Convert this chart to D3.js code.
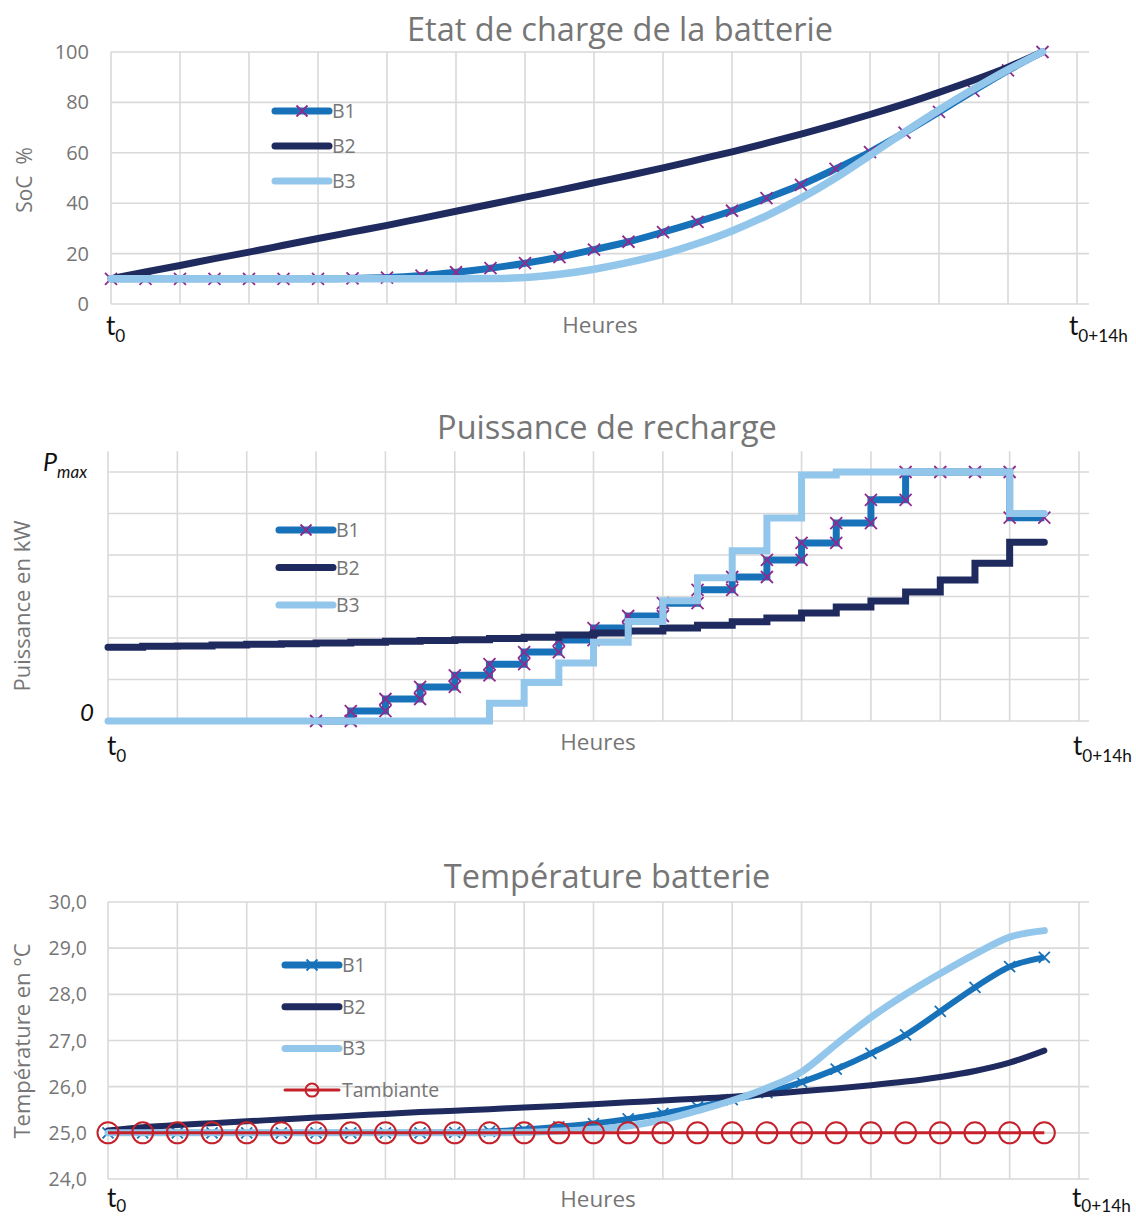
<!DOCTYPE html>
<html><head><meta charset="utf-8">
<script src="https://cdnjs.cloudflare.com/ajax/libs/d3/7.8.5/d3.min.js"></script>
<style>body{margin:0;background:#fff}svg{display:block}</style>
</head><body>
<script>
// ---------- DATA ----------
// Chart 1 : SoC (%) at half-hour steps (index 0..27)
const socB1 = [10,10,10,10,10,10,10,10.2,10.5,11.3,12.6,14.2,16.2,18.6,21.6,24.7,28.5,32.6,37,42,47.3,53.6,60.3,68,76.2,84.6,92.7,100];
const socB2 = [10,12.7,15.3,18,20.6,23.3,26,28.6,31.2,34,36.8,39.6,42.4,45.2,48.1,51,54,57.2,60.4,63.8,67.4,71.2,75.2,79.4,84,88.8,94,100];
const socB3 = [10,10,10,10,10,10,10,10,10,10,10,10.1,10.5,11.8,13.8,16.5,19.8,24,29,35,42,50,59,68.2,77,85.3,93,100];
const socTicks = [0,20,40,60,80,100];

// Chart 2 : charging power levels per half-hour interval (units of grid, Pmax = 6)
const powB1 = [null,null,null,null,null,null,0,0.24,0.53,0.82,1.1,1.37,1.66,1.95,2.24,2.53,2.84,3.16,3.47,3.88,4.29,4.77,5.33,6,6,6,4.9];
const powB2 = [1.78,1.8,1.81,1.83,1.85,1.86,1.88,1.9,1.92,1.94,1.96,1.99,2.02,2.07,2.12,2.17,2.24,2.31,2.39,2.48,2.6,2.75,2.89,3.11,3.4,3.8,4.31];
const powB3 = [0,0,0,0,0,0,0,0,0,0,0,0.43,0.93,1.4,1.9,2.4,2.9,3.45,4.1,4.89,5.93,6,6,6,6,6,5.0];
const pmax = 6;

// Chart 3 : battery temperature (°C)
const tB1 = [25,25,25,25,25,25,25,25,25,25,25.01,25.03,25.07,25.13,25.2,25.3,25.42,25.56,25.72,25.87,26.1,26.38,26.72,27.12,27.63,28.15,28.6,28.8];
const tB2 = [25.05,25.12,25.17,25.21,25.25,25.29,25.33,25.37,25.41,25.45,25.48,25.51,25.55,25.58,25.62,25.66,25.7,25.74,25.78,25.84,25.9,25.96,26.03,26.11,26.21,26.34,26.52,26.78];
const tB3 = [25,25,25,25,25,25,25,25,25,25,25,25,25.01,25.04,25.08,25.15,25.28,25.48,25.7,25.97,26.32,26.92,27.5,28,28.45,28.87,29.24,29.38];
const tAmb = [25,25,25,25,25,25,25,25,25,25,25,25,25,25,25,25,25,25,25,25,25,25,25,25,25,25,25,25];
const tempTicks = [24,25,26,27,28,29,30];

const titles = ["Etat de charge de la batterie","Puissance de recharge","Température batterie"];
const yLabels = ["SoC  %","Puissance en kW","Température en °C"];
const seriesNames = ["B1","B2","B3","Tambiante"];
const xLabel = "Heures";

// ---------- STYLE ----------
const C = {b1:"#1872B9", b2:"#1F2A5E", b3:"#93C6EB", mk:"#8E2B8E", red:"#C4212B", grid:"#D9D9D9", txt:"#767676"};
const FONT = "'Open Sans', Lato, sans-serif";
const TFONT = "Lato, 'Open Sans', sans-serif";
const W = 1136, H = 1218;
const svg = d3.select("body").append("svg").attr("width",W).attr("height",H).style("font-family",FONT);

function xMark(g, x, y, s, color, w){
  g.append("path").attr("d",`M${x-s},${y-s}L${x+s},${y+s}M${x-s},${y+s}L${x+s},${y-s}`)
   .attr("stroke",color).attr("stroke-width",w).attr("fill","none");
}
function tLabel(g, x, y, sub, size, dy){
  const t = g.append("text").attr("x",x).attr("y",y).attr("fill","#111").style("font-size",size+"px").style("font-family",TFONT);
  t.append("tspan").text("t");
  t.append("tspan").attr("dy",dy).style("font-size",(size*0.66)+"px").text(sub);
}
function grid(g, x, y, xTicks, yTicks, xr, yTop, xRightExt){
  g.append("g").selectAll("line").data(xTicks).join("line")
   .attr("x1",d=>x(d)).attr("x2",d=>x(d)).attr("y1",yTop).attr("y2",y.range()[0])
   .attr("stroke",C.grid).attr("stroke-width",1.6);
  g.append("g").selectAll("line").data(yTicks).join("line")
   .attr("x1",xr[0]).attr("x2",xRightExt).attr("y1",d=>y(d)).attr("y2",d=>y(d))
   .attr("stroke",C.grid).attr("stroke-width",1.6);
}
function legend(g, x0, y0, dy, items){
  items.forEach((it,i)=>{
    const y = y0 + i*dy;
    g.append("line").attr("x1",x0).attr("x2",x0+54).attr("y1",y).attr("y2",y)
     .attr("stroke",it.color).attr("stroke-width",it.w).attr("stroke-linecap","round");
    if(it.marker==="x") xMark(g, x0+27, y, 5.5, it.mcolor, it.mw);
    if(it.marker==="o") g.append("circle").attr("cx",x0+27).attr("cy",y).attr("r",6.5)
      .attr("fill","none").attr("stroke",C.red).attr("stroke-width",2);
    g.append("text").attr("x",x0+57).attr("y",y+7).attr("fill",C.txt).style("font-size","19.5px").text(it.name);
  });
}
function yTitle(g, x, y, size, txt){
  g.append("text").attr("transform",`translate(${x},${y}) rotate(-90)`).attr("text-anchor","middle")
   .attr("fill",C.txt).style("font-size",size+"px").style("white-space","pre").attr("xml:space","preserve").text(txt);
}

// ================= Chart 1 =================
{
  const g = svg.append("g");
  const x = d3.scaleLinear().domain([0,28]).range([111,1077]);
  const y = d3.scaleLinear().domain([0,100]).range([304,52]);
  grid(g, x, y, d3.range(0,29,2), socTicks, [111,1077], 52, 1089);
  g.append("g").selectAll("text").data(socTicks).join("text")
   .attr("x",89).attr("y",d=>y(d)+7).attr("text-anchor","end").attr("fill",C.txt)
   .style("font-size","20px").text(d=>d);
  const line = d3.line().x((d,i)=>x(i)).y(d=>y(d)).curve(d3.curveMonotoneX);
  g.append("path").attr("d",line(socB1)).attr("fill","none").attr("stroke",C.b1).attr("stroke-width",7);
  socB1.forEach((v,i)=>xMark(g, x(i), y(v), 6, C.mk, 1.8));
  g.append("path").attr("d",line(socB2)).attr("fill","none").attr("stroke",C.b2).attr("stroke-width",7).attr("stroke-linecap","round");
  g.append("path").attr("d",line(socB3)).attr("fill","none").attr("stroke",C.b3).attr("stroke-width",7.5).attr("stroke-linecap","round");
  g.append("text").attr("x",620).attr("y",41).attr("text-anchor","middle").attr("fill",C.txt).style("font-size","32.5px").text(titles[0]);
  yTitle(g, 32, 180, 21, yLabels[0]);
  g.append("text").attr("x",600).attr("y",333).attr("text-anchor","middle").attr("fill",C.txt).style("font-size","22.5px").text(xLabel);
  tLabel(g, 106, 335, "0", 26, 7);
  tLabel(g, 1069, 335, "0+14h", 26, 7);
  legend(g, 275, 111, 35, [
    {name:seriesNames[0], color:C.b1, w:7, marker:"x", mcolor:C.mk, mw:1.8},
    {name:seriesNames[1], color:C.b2, w:7},
    {name:seriesNames[2], color:C.b3, w:7}]);
}

// ================= Chart 2 =================
function stepPts(levels){
  const pts = [];
  levels.forEach((v,k)=>{
    if(v==null) return;
    const prev = k>0 ? levels[k-1] : null;
    if(prev!=null && prev!==v) pts.push([k,prev]);
    pts.push([k,v]);
    pts.push([k+1,v]);
  });
  return pts.filter((p,i)=> i===0 || !(p[0]===pts[i-1][0] && p[1]===pts[i-1][1]));
}
{
  const g = svg.append("g");
  const x = d3.scaleLinear().domain([0,28]).range([108,1079]);
  const y = d3.scaleLinear().domain([0,pmax]).range([721,472]);
  grid(g, x, y, d3.range(0,29,2), d3.range(0,pmax+1), [108,1079], y(6.5), 1089);
  const line = d3.line().x(d=>x(d[0])).y(d=>y(d[1]));
  const p1 = stepPts(powB1), p2 = stepPts(powB2), p3 = stepPts(powB3);
  g.append("path").attr("d",line(p1)).attr("fill","none").attr("stroke",C.b1).attr("stroke-width",7);
  p1.forEach(p=>xMark(g, x(p[0]), y(p[1]), 6, C.mk, 1.8));
  g.append("path").attr("d",line(p2)).attr("fill","none").attr("stroke",C.b2).attr("stroke-width",7).attr("stroke-linecap","round");
  g.append("path").attr("d",line(p3)).attr("fill","none").attr("stroke",C.b3).attr("stroke-width",7).attr("stroke-linecap","round");
  g.append("text").attr("x",607).attr("y",439).attr("text-anchor","middle").attr("fill",C.txt).style("font-size","32.5px").text(titles[1]);
  yTitle(g, 30, 606, 22, yLabels[1]);
  g.append("text").attr("x",598).attr("y",750).attr("text-anchor","middle").attr("fill",C.txt).style("font-size","22.5px").text(xLabel);
  const pm = g.append("text").attr("x",43).attr("y",y(pmax)-1).attr("fill","#111").style("font-size","25px").style("font-style","italic").style("font-family",TFONT);
  pm.append("tspan").text("P");
  pm.append("tspan").attr("dy",7).style("font-size","17px").text("max");
  g.append("text").attr("x",87).attr("y",y(0)).attr("text-anchor","middle").attr("fill","#111").style("font-size","24px").style("font-style","italic").style("font-family",TFONT).text("0");
  tLabel(g, 107, 755, "0", 26, 7);
  tLabel(g, 1073, 755, "0+14h", 26, 7);
  legend(g, 279, 530, 37.5, [
    {name:seriesNames[0], color:C.b1, w:7, marker:"x", mcolor:C.mk, mw:1.8},
    {name:seriesNames[1], color:C.b2, w:7},
    {name:seriesNames[2], color:C.b3, w:7}]);
}

// ================= Chart 3 =================
{
  const g = svg.append("g");
  const x = d3.scaleLinear().domain([0,28]).range([108,1079]);
  const y = d3.scaleLinear().domain([24,30]).range([1179,902]);
  grid(g, x, y, d3.range(0,29,2), tempTicks, [108,1079], 902, 1089);
  g.append("g").selectAll("text").data(tempTicks).join("text")
   .attr("x",87).attr("y",d=>y(d)+7).attr("text-anchor","end").attr("fill",C.txt)
   .style("font-size","19.5px").text(d=>d3.format(".1f")(d).replace(".",","));
  const line = d3.line().x((d,i)=>x(i)).y(d=>y(d)).curve(d3.curveMonotoneX);
  g.append("path").attr("d",line(tB1)).attr("fill","none").attr("stroke",C.b1).attr("stroke-width",6);
  tB1.forEach((v,i)=>xMark(g, x(i), y(v), 5.5, C.b1, 1.8));
  g.append("path").attr("d",line(tB2)).attr("fill","none").attr("stroke",C.b2).attr("stroke-width",6).attr("stroke-linecap","round");
  g.append("path").attr("d",line(tB3)).attr("fill","none").attr("stroke",C.b3).attr("stroke-width",7).attr("stroke-linecap","round");
  g.append("path").attr("d",line(tAmb)).attr("fill","none").attr("stroke",C.red).attr("stroke-width",3);
  g.append("g").selectAll("circle").data(tAmb).join("circle")
   .attr("cx",(d,i)=>x(i)).attr("cy",d=>y(d)).attr("r",10.5)
   .attr("fill","none").attr("stroke",C.red).attr("stroke-width",2);
  g.append("text").attr("x",607).attr("y",888).attr("text-anchor","middle").attr("fill",C.txt).style("font-size","32.5px").text(titles[2]);
  yTitle(g, 30, 1041, 22, yLabels[2]);
  g.append("text").attr("x",598).attr("y",1207).attr("text-anchor","middle").attr("fill",C.txt).style("font-size","22.5px").text(xLabel);
  tLabel(g, 107, 1207, "0", 26, 5);
  tLabel(g, 1072, 1207, "0+14h", 26, 5);
  legend(g, 285, 965, 41.7, [
    {name:seriesNames[0], color:C.b1, w:7, marker:"x", mcolor:C.b1, mw:1.8},
    {name:seriesNames[1], color:C.b2, w:7},
    {name:seriesNames[2], color:C.b3, w:7},
    {name:seriesNames[3], color:C.red, w:3, marker:"o"}]);
}
</script>
</body></html>
